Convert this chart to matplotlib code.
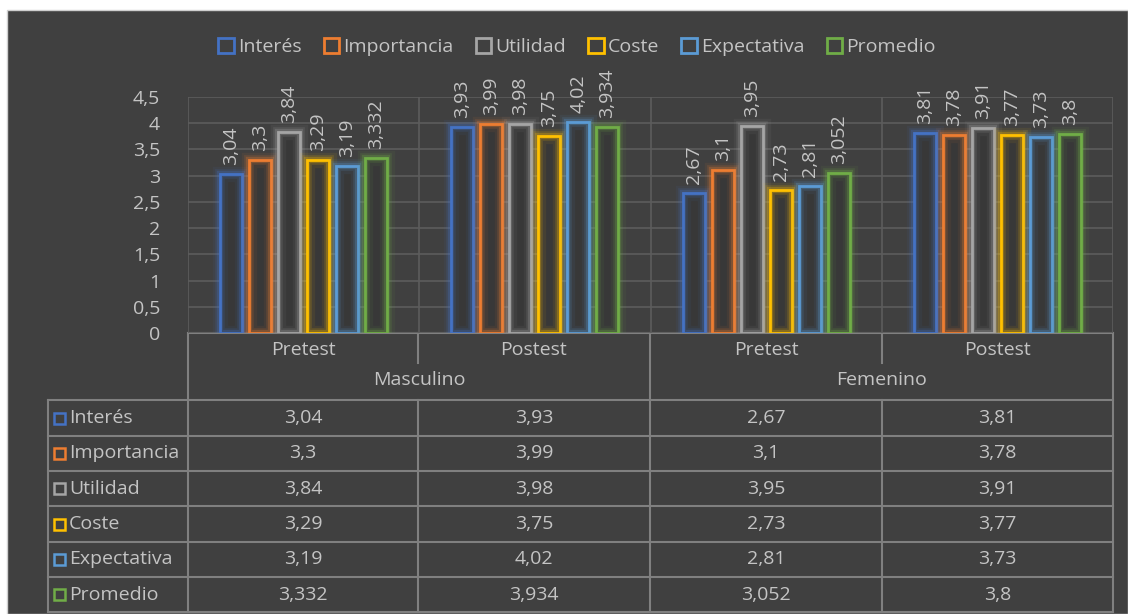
import matplotlib
matplotlib.use("Agg")
import matplotlib.pyplot as plt
import matplotlib.patheffects as pe
from matplotlib.patches import Rectangle
from matplotlib.lines import Line2D
from matplotlib.ticker import FuncFormatter, MultipleLocator

plt.rcParams['font.family'] = ['Open Sans', 'DejaVu Sans']

# ---- data ----
phases = ["Pretest", "Postest", "Pretest", "Postest"]
genders = ["Masculino", "Femenino"]
series = ["Interés", "Importancia", "Utilidad", "Coste", "Expectativa", "Promedio"]
interes = [3.04, 3.93, 2.67, 3.81]
importancia = [3.3, 3.99, 3.1, 3.78]
utilidad = [3.84, 3.98, 3.95, 3.91]
coste = [3.29, 3.75, 2.73, 3.77]
expectativa = [3.19, 4.02, 2.81, 3.73]
promedio = [3.332, 3.934, 3.052, 3.8]
values = [interes, importancia, utilidad, coste, expectativa, promedio]
colors = ["#4472C4", "#ED7D31", "#A5A5A5", "#FFC000", "#5B9BD5", "#70AD47"]

BG = "#404040"
TXT = "#c4c4c4"
GRID = "#5c5c5c"
TLINE = "#808080"
FS = 14

W, H = 1128, 614
fig = plt.figure(figsize=(W / 100, H / 100), dpi=100, facecolor="white")


def fmt(v):
    return ("%g" % v).replace(".", ",")


# overlay axes in pixel coordinates for background and data table
ov = fig.add_axes([0, 0, 1, 1], zorder=0)
ov.set_xlim(0, W)
ov.set_ylim(H, 0)
ov.axis("off")
ov.add_patch(Rectangle((7, 10), W - 7, H - 10, facecolor=BG, edgecolor="#cfcfcf", lw=1))

# main bar axes
x_left, x_right = 188, 1113
y_top, y_zero = 97, 333
ax = fig.add_axes([x_left / W, (H - y_zero) / H, (x_right - x_left) / W, (y_zero - y_top) / H], zorder=1)
ax.set_facecolor("none")
ax.set_xlim(0, len(phases))
ax.set_ylim(0, 4.5)
ax.yaxis.set_major_locator(MultipleLocator(0.5))
ax.yaxis.set_major_formatter(FuncFormatter(lambda v, p: fmt(round(v, 1))))
ax.tick_params(axis="y", length=0, pad=20, labelsize=FS, labelcolor=TXT)
ax.tick_params(axis="x", length=0, labelbottom=False)
ax.set_xticks(range(len(phases) + 1))
ax.grid(True, color=GRID, lw=1.2)
ax.set_axisbelow(True)
for s in ax.spines.values():
    s.set_visible(False)

step = 0.1255
width = 0.095
n = len(series)
for i, (vals, c) in enumerate(zip(values, colors)):
    xs = [g + 0.5 + (i - (n - 1) / 2) * step for g in range(len(phases))]
    ax.bar(xs, vals, width=width, color="#383838", edgecolor="none", zorder=2)
    bars = ax.bar(xs, vals, width=width, facecolor="none", edgecolor=c, lw=2, zorder=3)
    for b in bars:
        b.set_path_effects([
            pe.Stroke(linewidth=11, foreground=c, alpha=0.07),
            pe.Stroke(linewidth=7, foreground=c, alpha=0.14),
            pe.Stroke(linewidth=4.5, foreground=c, alpha=0.25),
            pe.Normal(),
        ])
    for x, v in zip(xs, vals):
        ax.annotate(fmt(v), (x, v), xytext=(0, 6.5), textcoords="offset points",
                    rotation=90, ha="center", va="bottom", color=TXT, fontsize=FS,
                    annotation_clip=False)

# legend
handles = [Rectangle((0, 0), 1, 1, facecolor="none", edgecolor=c, lw=2) for c in colors]
leg = fig.legend(handles, series, loc="center", bbox_to_anchor=(577 / W, 1 - 47 / H), ncol=n,
                 frameon=False, fontsize=FS, handlelength=0.8, handleheight=0.8,
                 handletextpad=0.2, columnspacing=1.15, labelcolor=TXT)

# ---- data table under the axis ----
cols = [188, 418, 650, 882, 1113]
rows = [400, 436, 471, 506, 542, 577, 612]
lw = 1.5


def hline(y, x0, x1):
    ov.add_line(Line2D([x0, x1], [y, y], color=TLINE, lw=lw))


def vline(x, y0, y1):
    ov.add_line(Line2D([x, x], [y0, y1], color=TLINE, lw=lw))


hline(y_zero, cols[0], cols[-1])
for y in rows:
    hline(y, 48, cols[-1])
vline(48, rows[0], rows[-1])
for j, x in enumerate(cols):
    if j in (1, 3):
        vline(x, y_zero, 363)
        vline(x, rows[0], rows[-1])
    else:
        vline(x, y_zero, rows[-1])

for j, ph in enumerate(phases):
    cx = (cols[j] + cols[j + 1]) / 2
    ov.text(cx, 350, ph, ha="center", va="center", color=TXT, fontsize=FS)
for k, g in enumerate(genders):
    cx = (cols[2 * k] + cols[2 * k + 2]) / 2
    ov.text(cx, 380, g, ha="center", va="center", color=TXT, fontsize=FS)

for i, (name, vals, c) in enumerate(zip(series, values, colors)):
    cy = (rows[i] + rows[i + 1]) / 2
    ov.add_patch(Rectangle((54, cy - 5.5), 11, 11, facecolor="none", edgecolor=c, lw=1.8))
    ov.text(69, cy, name, ha="left", va="center", color=TXT, fontsize=FS)
    for j, v in enumerate(vals):
        cx = (cols[j] + cols[j + 1]) / 2
        ov.text(cx, cy, fmt(v), ha="center", va="center", color=TXT, fontsize=FS)

fig.savefig("out.png", dpi=100, facecolor=fig.get_facecolor())
